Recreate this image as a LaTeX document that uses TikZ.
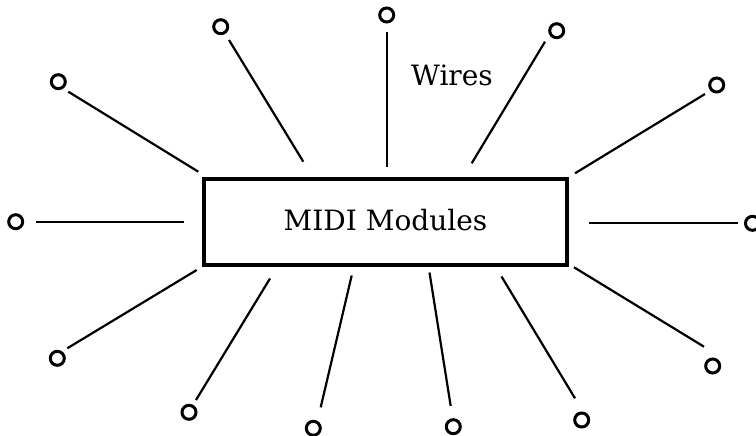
\documentclass[tikz,border=0pt]{standalone}
\usepackage{fontspec}
\setmainfont{DejaVu Serif}
\begin{document}
\begin{tikzpicture}[x=1pt,y=-1pt,
  modbox/.style={draw, line width=3.2pt, rectangle, minimum width=363pt, minimum height=86pt, inner sep=0pt, text height=16pt, text depth=0pt, font=\fontsize{28}{30}\selectfont},
  pin/.style={draw, circle, line width=3pt, minimum size=14pt, inner sep=0pt},
  wire/.style={line width=2.2pt},
  lbl/.style={font=\fontsize{28}{30}\selectfont, anchor=base, inner sep=0pt}]
\useasboundingbox (0,0) rectangle (756,436);
\node[modbox] (mod) at (385.5,222) {MIDI Modules};
\node[lbl] (wires) at (452,85) {Wires};
% pins
\node[pin] (p1) at (58.3,81.7) {};
\node[pin] (p2) at (220.7,26.7) {};
\node[pin] (p3) at (386.7,15) {};
\node[pin] (p4) at (556.7,30.7) {};
\node[pin] (p5) at (716.7,85) {};
\node[pin] (p6) at (15.7,221.7) {};
\node[pin] (p7) at (752.5,223.3) {};
\node[pin] (p8) at (57.3,358.3) {};
\node[pin] (p9) at (712.7,366) {};
\node[pin] (p10) at (189,412.3) {};
\node[pin] (p11) at (313.3,428.3) {};
\node[pin] (p12) at (453.3,426.7) {};
\node[pin] (p13) at (581.7,420) {};
% wire ends
\coordinate (a1) at (68.3,91.7);   \coordinate (b1) at (198.3,171.7);
\coordinate (a2) at (229,40);      \coordinate (b2) at (303.3,161.7);
\coordinate (a3) at (386.7,31.7);  \coordinate (b3) at (386.7,166.7);
\coordinate (a4) at (545,41.7);    \coordinate (b4) at (471.7,163.3);
\coordinate (a5) at (705,94);      \coordinate (b5) at (575,173.3);
\coordinate (a6) at (35.7,221.7);  \coordinate (b6) at (184.3,221.7);
\coordinate (a7) at (738.3,223.3); \coordinate (b7) at (589.3,223.3);
\coordinate (a8) at (67.3,348.3);  \coordinate (b8) at (196.7,270);
\coordinate (a9) at (704,346.7);   \coordinate (b9) at (574,267.3);
\coordinate (a10) at (196,400);    \coordinate (b10) at (270,278.5);
\coordinate (a11) at (320.7,407.3);\coordinate (b11) at (351.7,275.5);
\coordinate (a12) at (450.7,406);  \coordinate (b12) at (429.5,272.5);
\coordinate (a13) at (575,398.3);  \coordinate (b13) at (501.5,276.5);
\foreach \i in {1,...,13} {\draw[wire] (a\i) -- (b\i);}
\end{tikzpicture}
\end{document}
